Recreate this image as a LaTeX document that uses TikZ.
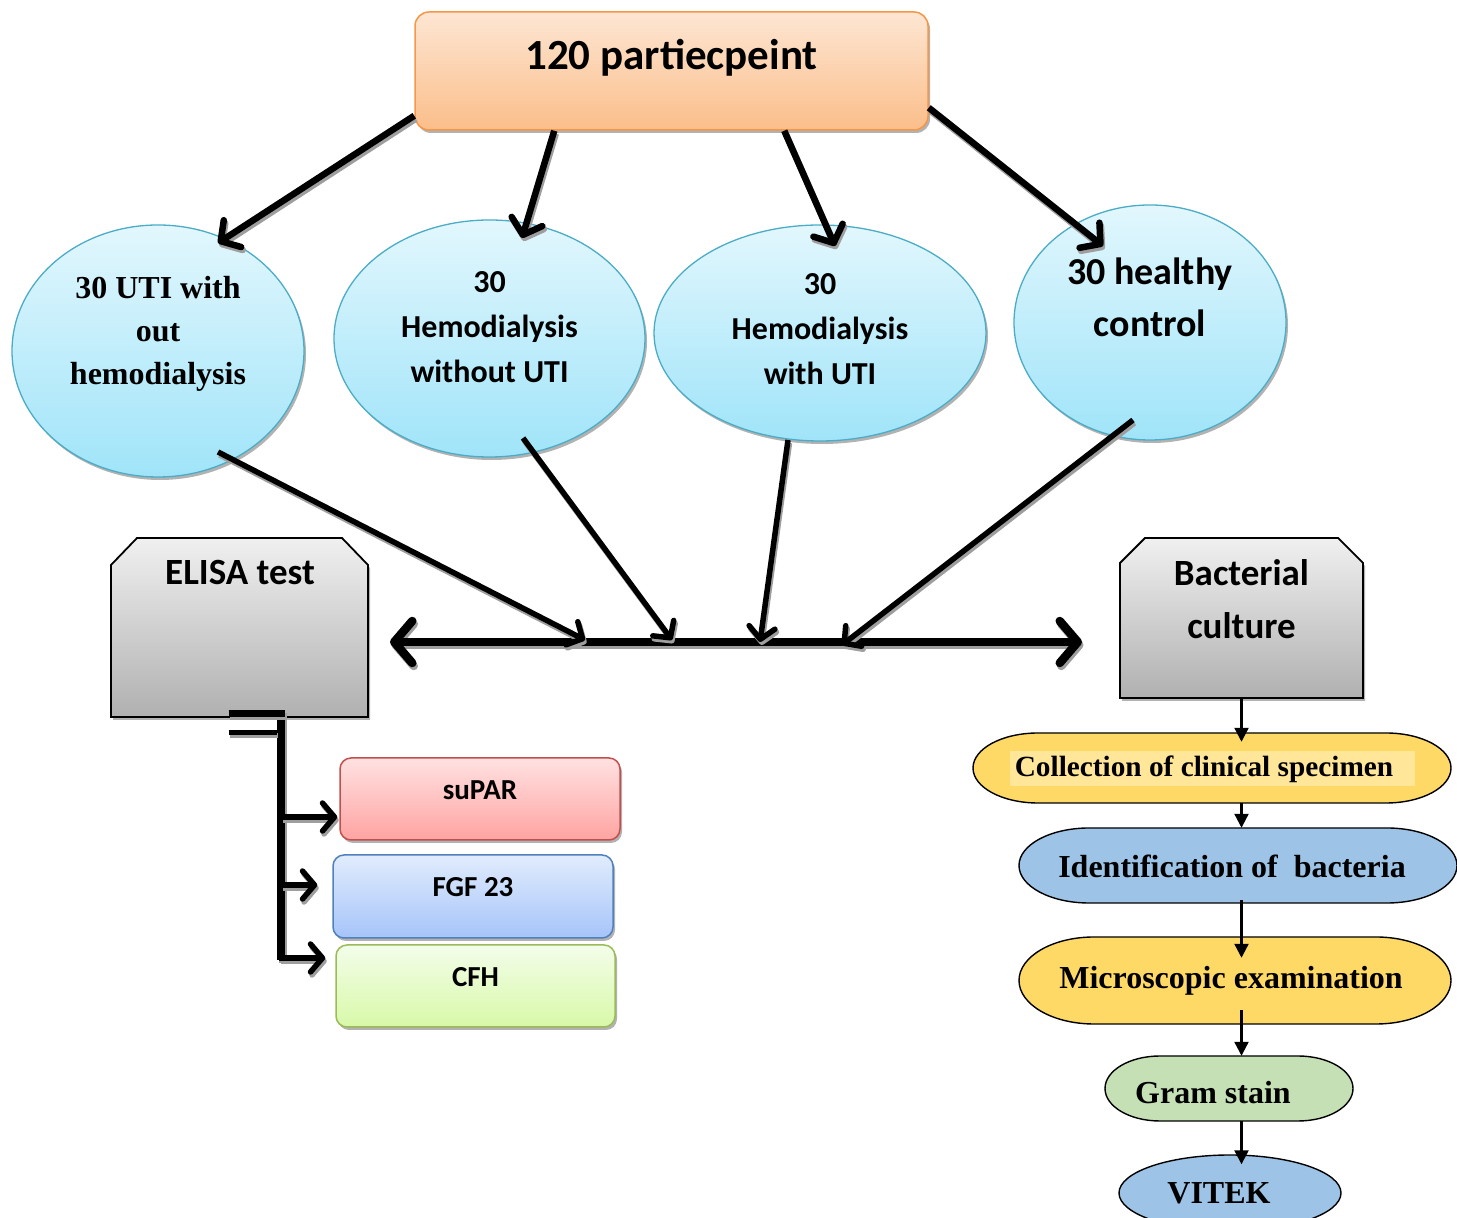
\documentclass[tikz,border=0pt]{standalone}
\usepackage{fontspec}
\setmainfont{Carlito}
\newfontfamily\tnr{Liberation Serif}
\usetikzlibrary{calc,arrows.meta,shadows,shapes.geometric}
\definecolor{orT}{HTML}{FDE6D3}
\definecolor{orB}{HTML}{FBBE8A}
\definecolor{orD}{HTML}{F79646}
\definecolor{cyT}{HTML}{E2F7FD}
\definecolor{cyB}{HTML}{A0E4F9}
\definecolor{cyD}{HTML}{4BACC6}
\definecolor{grT}{HTML}{F0F0F0}
\definecolor{grB}{HTML}{B0B0B0}
\definecolor{rdT}{HTML}{FFE1E1}
\definecolor{rdB}{HTML}{FFA4A2}
\definecolor{rdD}{HTML}{C0504D}
\definecolor{blT}{HTML}{E1ECFD}
\definecolor{blB}{HTML}{A6C4F9}
\definecolor{blD}{HTML}{4F81BD}
\definecolor{gnT}{HTML}{F3FDEA}
\definecolor{gnB}{HTML}{D8F9A8}
\definecolor{gnD}{HTML}{9BBB59}
\definecolor{yel}{HTML}{FFD966}
\definecolor{yelL}{HTML}{FFE699}
\definecolor{sky}{HTML}{9DC3E6}
\definecolor{mint}{HTML}{C5E0B4}

\newcommand\sarrow[3]{%
  \draw[#1,draw=black!38,transform canvas={shift={(1.5pt,-3pt)}}] #2 -- #3;
  \draw[#1] #2 -- #3;}

\newcommand\stadium[7]{%
  \draw[line width=1.4pt, fill=#7] (#2-#4+#6,#3+#5) -- (#2+#4-#6,#3+#5)
     arc[start angle=90,end angle=-90,x radius=#6pt,y radius=#5pt]
     -- (#2-#4+#6,#3-#5)
     arc[start angle=270,end angle=90,x radius=#6pt,y radius=#5pt] -- cycle;
  \node[minimum width=2*#4pt,minimum height=2*#5pt,inner sep=0pt] (#1) at (#2,#3) {};}

\begin{document}
\begin{tikzpicture}[x=1pt,y=1pt,
  shadowed/.style={drop shadow={shadow xshift=2pt,shadow yshift=-3pt,fill=black,opacity=0.3}},
  topbox/.style={rectangle,rounded corners=14pt,draw=orD,line width=1.5pt,top color=orT,bottom color=orB,minimum width=513pt,minimum height=118pt,inner sep=0pt,shadowed},
  grpell/.style={ellipse,draw=cyD,line width=1.3pt,top color=cyT,bottom color=cyB,inner sep=0pt,shadowed},
  graybox/.style={draw=black,line width=1.8pt,top color=grT,bottom color=grB,shadowed},
  markbox/.style={rectangle,rounded corners=11pt,line width=1.5pt,minimum width=280pt,minimum height=82pt,inner sep=0pt,shadowed},
  lbl/.style={inner sep=0pt,align=center,font=\bfseries},
  bigarr/.style={line width=6.5pt,-{Straight Barb[length=14pt,width=32pt,round]}},
  midarr/.style={line width=5.5pt,-{Straight Barb[length=12pt,width=26pt,round]}},
  hbar/.style={line width=8.5pt,{Straight Barb[length=18pt,width=42pt,round]}-{Straight Barb[length=18pt,width=42pt,round]}},
  branch/.style={line width=5.5pt,-{Straight Barb[length=12pt,width=28pt,round]}},
  trunk/.style={line width=8pt},
  chain/.style={line width=2.2pt,-{Triangle[length=14pt,width=14pt]}},
]
\useasboundingbox (0,0) rectangle (1457,1218);

% top box
\node[topbox] (top) at (671.5,1147) {};
\node[lbl,anchor=base,font=\bfseries\fontsize{43}{48}\selectfont] (toptxt) at (671.5,1148) {120 partiecpeint};

% groups
\node[grpell,minimum width=292pt,minimum height=252pt] (e1) at (158,867) {};
\node[grpell,minimum width=311pt,minimum height=237pt] (e2) at (489.5,879.5) {};
\node[grpell,minimum width=332pt,minimum height=216pt] (e3) at (820,885) {};
\node[grpell,minimum width=272pt,minimum height=235pt] (e4) at (1150,895.5) {};
\node[lbl,font=\tnr\bfseries\fontsize{32}{43}\selectfont] (e1t) at (158,884) {30 UTI with\\out\\hemodialysis};
\node[lbl,font=\bfseries\fontsize{32}{45}\selectfont] (e2t) at (489.5,891) {30\\Hemodialysis\\without UTI};
\node[lbl,font=\bfseries\fontsize{32}{45}\selectfont] (e3t) at (820,889) {30\\Hemodialysis\\with UTI};
\node[lbl,font=\bfseries\fontsize{38}{52}\selectfont] (e4t) at (1150,921) {30 healthy\\control};

% gray boxes
\path[graybox] (111,501) -- (111,653) -- (137,680) -- (342,680) -- (368,653) -- (368,501) -- cycle;
\node[minimum width=257pt,minimum height=179pt,inner sep=0pt] (elisa) at (239.5,590.5) {};
\node[lbl,font=\bfseries\fontsize{37}{40}\selectfont] (elisat) at (240,645) {ELISA test};
\path[graybox] (1120,520) -- (1120,655) -- (1145,680) -- (1338,680) -- (1363,655) -- (1363,520) -- cycle;
\node[minimum width=243pt,minimum height=160pt,inner sep=0pt] (bact) at (1241.5,600) {};
\node[lbl,font=\bfseries\fontsize{37}{53}\selectfont] (bactt) at (1241.5,618.5) {Bacterial\\culture};

% marker boxes
\node[markbox,draw=rdD,top color=rdT,bottom color=rdB] (supar) at (480,419) {};
\node[lbl,font=\bfseries\fontsize{29}{30}\selectfont] (supart) at (480,428) {suPAR};
\node[markbox,draw=blD,top color=blT,bottom color=blB,minimum height=83pt] (fgf) at (473,321.5) {};
\node[lbl,font=\bfseries\fontsize{29}{30}\selectfont] (fgft) at (473,331) {FGF 23};
\node[markbox,draw=gnD,top color=gnT,bottom color=gnB,minimum width=279pt] (cfh) at (475.5,232) {};
\node[lbl,font=\bfseries\fontsize{29}{30}\selectfont] (cfht) at (475.5,241) {CFH};

% right chain
\stadium{coll}{1212}{450}{239}{35}{65}{yel}
\fill[yelL] (1010,432) rectangle (1415,467);
\node[lbl,font=\tnr\bfseries\fontsize{29.3}{34}\selectfont] (collt) at (1204,449) {Collection of clinical specimen};
\stadium{ident}{1238}{352.5}{219}{37.5}{70}{sky}
\node[lbl,font=\tnr\bfseries\fontsize{32}{34}\selectfont] (identt) at (1232,352) {Identification of\ \ bacteria};
\stadium{micro}{1235}{237.5}{216}{43.5}{75}{yel}
\node[lbl,font=\tnr\bfseries\fontsize{32}{34}\selectfont] (microt) at (1231,237) {Microscopic examination};
\stadium{gram}{1229}{129.5}{124}{32.5}{55}{mint}
\node[lbl,font=\tnr\bfseries\fontsize{32}{34}\selectfont] (gramt) at (1213,125) {Gram stain};
\node[ellipse,draw,line width=1.4pt,fill=sky,minimum width=222pt,minimum height=76pt,inner sep=0pt] (vitek) at (1230,25) {};
\node[lbl,font=\tnr\bfseries\fontsize{32}{34}\selectfont] (vitekt) at (1219,25) {VITEK};

% central bar
\coordinate (hl) at (390,576);
\coordinate (hr) at (1082,576);
\sarrow{hbar}{(hl)}{(hr)}

% top arrows
\sarrow{bigarr}{($(top.south west)+(0,15)$)}{($(e1.center)+(60,108)$)}
\sarrow{bigarr}{($(top.south west)+(140,0)$)}{($(e2.center)+(32.5,100.5)$)}
\sarrow{bigarr}{($(top.south west)+(370,0)$)}{($(e3.center)+(15,87)$)}
\sarrow{bigarr}{($(top.south east)+(0,23)$)}{($(e4.center)+(-47,76.5)$)}

% down arrows
\sarrow{midarr}{($(e1.center)+(60,-101)$)}{($(hl)+(195,2)$)}
\sarrow{midarr}{($(e2.center)+(33.5,-99.5)$)}{($(hl)+(282,2)$)}
\sarrow{midarr}{($(e3.center)+(-32,-107)$)}{($(hl)+(370,0)$)}
\sarrow{midarr}{($(e4.center)+(-17,-97.5)$)}{($(hl)+(452,-3)$)}

% ELISA branch
\coordinate (tr0) at ($(elisa.south)+(41.5,4)$);
\coordinate (tr1) at ($(elisa.south)+(41.5,-243)$);
\sarrow{trunk}{(tr0)}{(tr1)}
\sarrow{line width=7pt}{($(elisa.south)+(-11,4)$)}{($(tr0)+(4,0)$)}
\sarrow{line width=5pt}{($(elisa.south)+(-11,-15)$)}{($(elisa.south)+(37,-15)$)}
\sarrow{branch}{($(supar.west)+(-58,-18)$)}{($(supar.west)+(-2,-18)$)}
\sarrow{branch}{($(fgf.west)+(-51,11.5)$)}{($(fgf.west)+(-15,11.5)$)}
\sarrow{branch}{($(cfh.west)+(-56,28)$)}{($(cfh.west)+(-10,28)$)}

% chain arrows
\draw[chain] (bact.south) -- ($(bact.south |- coll.north)+(0,-9)$);
\draw[chain] (bact.south |- coll.south) -- (bact.south |- ident.north);
\draw[chain] ($(bact.south |- ident.south)+(0,3)$) -- ($(bact.south |- micro.north)+(0,-21)$);
\draw[chain] ($(bact.south |- micro.south)+(0,14)$) -- (bact.south |- gram.north);
\draw[chain] (bact.south |- gram.south) -- ($(bact.south |- vitek.north)+(0,-10)$);
\end{tikzpicture}
\end{document}
